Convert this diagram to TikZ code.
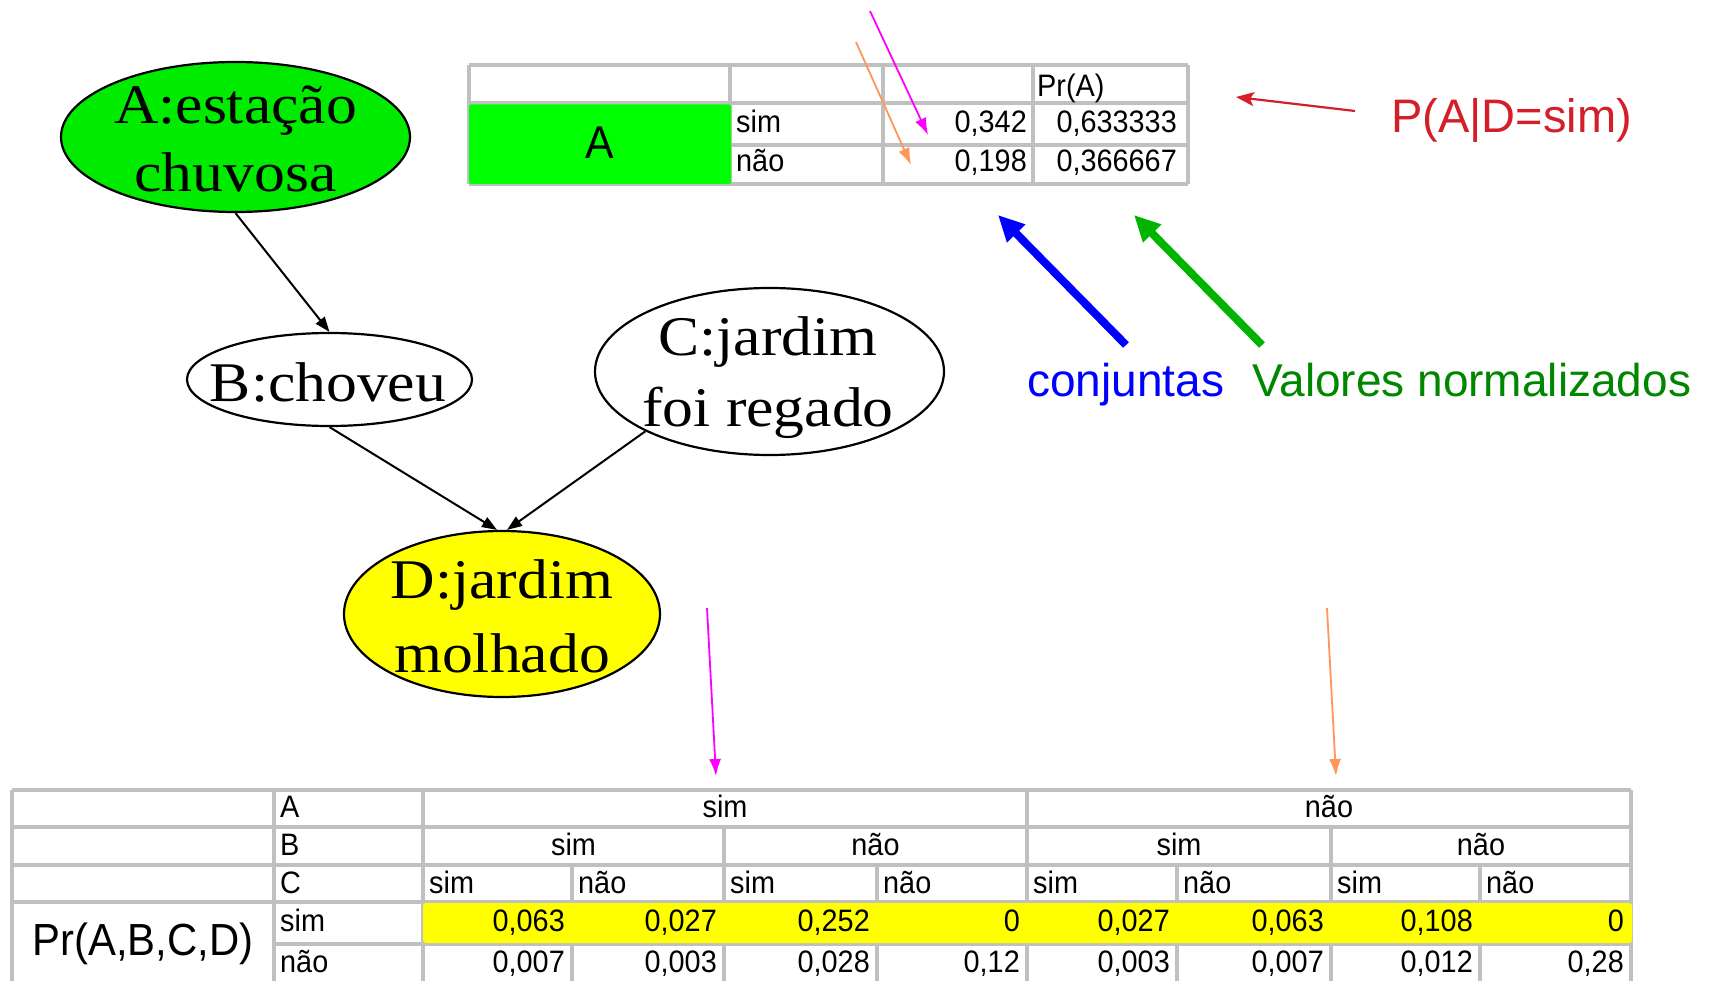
\documentclass[tikz,border=0pt]{standalone}
\usepackage{fontspec}
\setmainfont{Liberation Sans}
\newfontfamily\gvserif[FakeStretch=1.1]{Liberation Serif}
\newfontfamily\cellfam[FakeStretch=0.93]{Liberation Sans}
\usetikzlibrary{arrows.meta,shapes.geometric}
\definecolor{gridgray}{RGB}{192,192,192}
\definecolor{cellgreen}{RGB}{0,255,0}
\definecolor{nodegreen}{RGB}{0,235,0}
\definecolor{hlyellow}{RGB}{255,255,0}
\definecolor{magA}{RGB}{255,0,255}
\definecolor{orA}{RGB}{255,150,90}
\definecolor{redA}{RGB}{212,30,40}
\definecolor{blueA}{RGB}{0,0,255}
\definecolor{greenA}{RGB}{0,180,0}
\definecolor{greenT}{RGB}{0,135,0}
\newcommand\gvfont{\gvserif\fontsize{56}{68}\selectfont}
\newcommand\cellfont{\cellfam\fontsize{31}{36}\selectfont}
\newcommand\bigcellfont{\cellfam\fontsize{46}{52}\selectfont}
\newcommand\prfont{\cellfam\fontsize{45}{52}\selectfont}
\newcommand\annofont{\fontsize{46}{54}\selectfont}
\newcommand\padfont{\fontsize{47}{56}\selectfont}
\begin{document}
\begin{tikzpicture}[x=1pt,y=-1pt,
  gvnode/.style={ellipse, draw=black, line width=2.2pt, inner sep=0pt},
  gvtext/.style={inner sep=0pt, anchor=base, font=\gvfont},
  gvedge/.style={draw=black, line width=2pt, -{Triangle[length=15pt,width=11pt]}},
  tabline/.style={draw=gridgray, line width=3.5pt},
  cellL/.style={inner sep=0pt, anchor=base west, font=\cellfont},
  cellR/.style={inner sep=0pt, anchor=base east, font=\cellfont},
  cellC/.style={inner sep=0pt, anchor=base, font=\cellfont},
  thinarrow/.style={line width=1.8pt, -{Latex[length=17pt,width=12pt]}},
  thickarrow/.style={line width=8pt, -{Triangle[length=26pt,width=24pt]}},
  anno/.style={inner sep=0pt, anchor=base west, font=\annofont},
]
\useasboundingbox (0,0) rectangle (1730,981);
\fill[white] (0,0) rectangle (1730,981);

% ---------- Bayesian network ----------
\node[gvnode, fill=nodegreen, minimum width=349pt, minimum height=150pt] (A) at (235.5,137) {};
\node[gvtext] (A1) at (235.5,124) {A:estação};
\node[gvtext] (A2) at (235.5,192) {chuvosa};

\node[gvnode, fill=white, minimum width=285pt, minimum height=93pt] (B) at (329.5,379.5) {};
\node[gvtext] (B1) at (328,402) {B:choveu};

\node[gvnode, fill=white, minimum width=349pt, minimum height=167pt] (C) at (769.5,371.5) {};
\node[gvtext] (C1) at (768,356) {C:jardim};
\node[gvtext] (C2) at (768,427) {foi regado};

\node[gvnode, fill=hlyellow, minimum width=316pt, minimum height=166pt] (D) at (502,614) {};
\node[gvtext] (D1) at (502,598) {D:jardim};
\node[gvtext] (D2) at (502,672) {molhado};

\draw[gvedge] (A.south) -- (B.north);
\draw[gvedge] (B.south) -- ([xshift=-5pt]D.north);
\draw[gvedge] (C.south west) -- ([xshift=5pt]D.north);

% ---------- top table ----------
\foreach \y in {65,103,184} \draw[tabline] (469,\y) -- (1188,\y);
\draw[tabline] (730,145) -- (1188,145);
\foreach \x in {469,730,883,1033,1188} \draw[tabline] (\x,65) -- (\x,184);
\fill[cellgreen, rounded corners=2pt] (469,104.5) rectangle (731,184);
\node[inner sep=0pt, font=\bigcellfont] (tA) at (600,143) {A};
\node[cellL] (tsim) at (736,133) {sim};
\node[cellL] (tnao) at (736,172) {não};
\node[cellL] (tpr) at (1037,97) {Pr(A)};
\node[cellR] (tj1) at (1027,133) {0,342};
\node[cellR] (tj2) at (1027,172) {0,198};
\node[cellR] (tn1) at (1177,133) {0,633333};
\node[cellR] (tn2) at (1177,172) {0,366667};

% ---------- bottom table ----------
\foreach \y in {790,827,865,902} \draw[tabline] (12,\y) -- (1631,\y);
\draw[tabline] (274,944) -- (1631,944);
\draw[tabline] (12,983) -- (1631,983);
\foreach \x in {12,274,423,1027,1631} \draw[tabline] (\x,790) -- (\x,983);
\foreach \x in {724,1331} \draw[tabline] (\x,827) -- (\x,983);
\foreach \x in {572,877,1177,1480} \draw[tabline] (\x,865) -- (\x,983);
\fill[hlyellow, rounded corners=3pt] (423,903) rectangle (1632,943);

\node[cellL] (lA) at (280,817) {A};
\node[cellL] (lB) at (280,855) {B};
\node[cellL] (lC) at (280,893) {C};
\node[cellL] (lsim) at (280,931) {sim};
\node[cellL] (lnao) at (280,972) {não};
\node[inner sep=0pt, anchor=base, font=\prfont] (pr) at (143,955) {Pr(A,B,C,D)};

\node[cellC] (hA1) at (725,817) {sim};
\node[cellC] (hA2) at (1329,817) {não};
\foreach \x/\t [count=\i] in {573.5/sim,875.5/não,1179/sim,1481/não}
  \node[cellC] (hB\i) at (\x,855) {\t};
\foreach \x/\t [count=\i] in {429/sim,578/não,730/sim,883/não,1033/sim,1183/não,1337/sim,1486/não}
  \node[cellL] (hC\i) at (\x,893) {\t};
\foreach \x/\v [count=\i] in {565/{0,063},717/{0,027},870/{0,252},1020/0,1170/{0,027},1324/{0,063},1473/{0,108},1624/0}
  \node[cellR] (vs\i) at (\x,931) {\v};
\foreach \x/\v [count=\i] in {565/{0,007},717/{0,003},870/{0,028},1020/{0,12},1170/{0,003},1324/{0,007},1473/{0,012},1624/{0,28}}
  \node[cellR] (vn\i) at (\x,972) {\v};

% ---------- annotations ----------
\node[inner sep=0pt, anchor=base west, font=\padfont, text=redA] (pad) at (1391,133) {P(A|D=sim)};
\node[anno, text=blueA] (conj) at (1027,397) {conjuntas};
\node[anno, text=greenT] (valn) at (1252,397) {Valores normalizados};

\coordinate (redtail) at (1355,111);
\coordinate (redtip) at (1236,97);
\draw[redA, line width=2.2pt, -{Stealth[length=18pt,width=14pt,inset=4pt]}] (redtail) -- (redtip);

\coordinate (bluetail) at (1126,345);
\coordinate (bluetip) at (998,215);
\draw[thickarrow, blueA] (bluetail) -- (bluetip);
\coordinate (greentail) at (1262,345);
\coordinate (greentip) at (1134,215);
\draw[thickarrow, greenA] (greentail) -- (greentip);

\coordinate (m1tail) at (870,11);
\coordinate (m1tip) at (928,135);
\draw[thinarrow, magA] (m1tail) -- (m1tip);
\coordinate (o1tail) at (856,42);
\coordinate (o1tip) at (911,165);
\draw[thinarrow, orA] (o1tail) -- (o1tip);
\coordinate (m2tail) at (707,608);
\coordinate (m2tip) at (716,776);
\draw[thinarrow, magA] (m2tail) -- (m2tip);
\coordinate (o2tail) at (1327,608);
\coordinate (o2tip) at (1336,776);
\draw[thinarrow, orA] (o2tail) -- (o2tip);
\end{tikzpicture}
\end{document}
